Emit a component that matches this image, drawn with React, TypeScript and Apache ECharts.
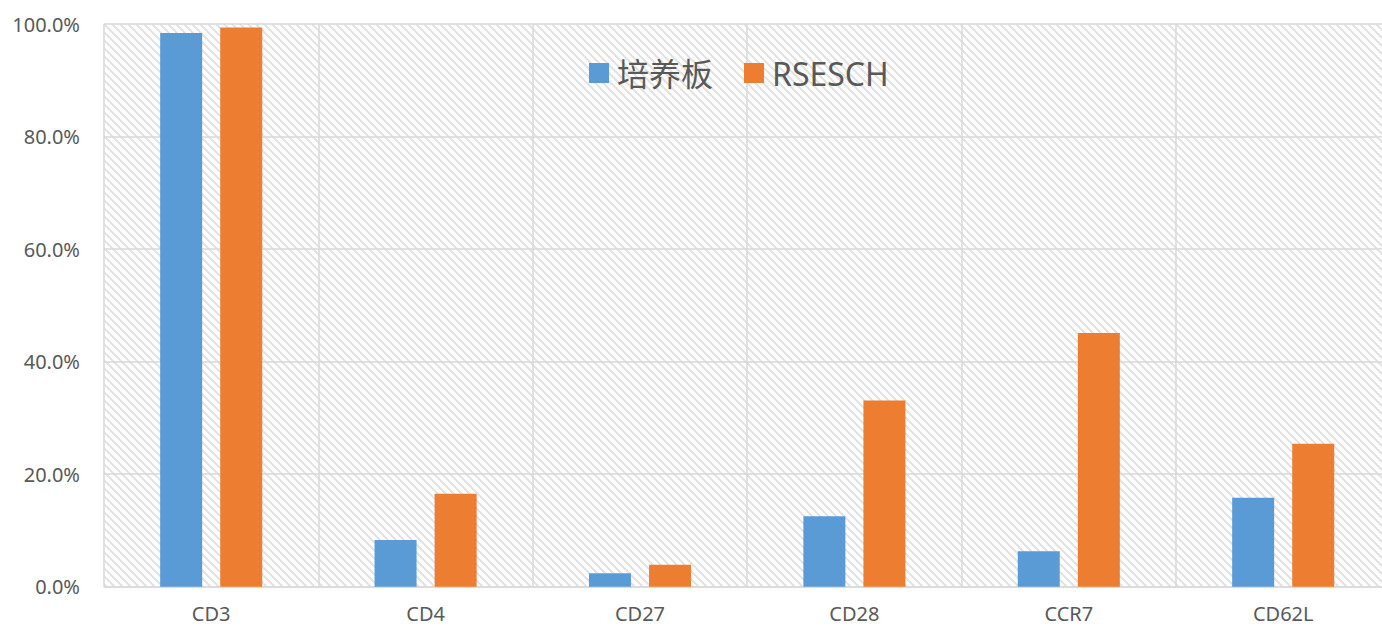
import React, { useEffect, useRef } from "react";
import * as echarts from "echarts";

const categories = ["CD3", "CD4", "CD27", "CD28", "CCR7", "CD62L"];
const seriesNames = ["培养板", "RSESCH"];
const plateValues = [98.4, 8.3, 2.4, 12.5, 6.3, 15.8];
const rseschValues = [99.4, 16.5, 3.9, 33.1, 45.1, 25.4];
const yTicks = { min: 0, max: 100, interval: 20 };

const W = 1382;
const H = 627;
const GRID = { left: 104, top: 24, width: 1286.4, height: 562.7 };

const tileSvg =
  "<svg xmlns='http://www.w3.org/2000/svg' width='8' height='8'>" +
  "<path d='M-1,-1 L9,9 M-1,7 L1,9 M7,-1 L9,1' stroke='#e2e2e2' stroke-width='2' fill='none'/></svg>";
const tileUrl = "data:image/svg+xml;utf8," + encodeURIComponent(tileSvg);

export default function App() {
  const ref = useRef<HTMLDivElement>(null);
  useEffect(() => {
    if (!ref.current) return;
    const chart = echarts.init(ref.current, null, { renderer: "svg" });
    const textColor = "#595959";
    const font = "'Noto Sans', 'Open Sans', 'Noto Sans CJK SC', sans-serif";
    chart.setOption({
      animation: false,
      backgroundColor: "#ffffff",
      textStyle: { fontFamily: font },
      grid: { ...GRID, containLabel: false, outerBoundsMode: "none" },
      graphic: [
        {
          type: "rect",
          z: -10,
          silent: true,
          shape: { x: GRID.left, y: GRID.top, width: GRID.width, height: GRID.height },
          style: {
            fill: { image: tileUrl, repeat: "repeat", imageWidth: 8, imageHeight: 8 },
          },
        },
      ],
      legend: {
        left: 584,
        top: 52,
        itemWidth: 20,
        itemHeight: 20,
        itemGap: 31,
        icon: "rect",
        textStyle: {
          fontSize: 32,
          color: textColor,
          fontFamily: "'Noto Sans', 'Noto Sans CJK SC', sans-serif",
          padding: [0, 0, 0, 3],
        },
        data: seriesNames,
      },
      xAxis: {
        type: "category",
        data: categories,
        boundaryGap: true,
        axisTick: { show: false },
        axisLine: { lineStyle: { color: "#d9d9d9", width: 1.5 } },
        axisLabel: { color: textColor, fontSize: 20, lineHeight: 20, margin: 17 },
        splitLine: { show: true, lineStyle: { color: "#d9d9d9", width: 1.5 } },
      },
      yAxis: {
        type: "value",
        min: yTicks.min,
        max: yTicks.max,
        interval: yTicks.interval,
        axisLine: { show: false },
        axisTick: { show: false },
        axisLabel: {
          color: textColor,
          fontSize: 20,
          margin: 24,
          formatter: (v: number) => v.toFixed(1) + "%",
        },
        splitLine: { show: true, lineStyle: { color: "#d9d9d9", width: 1.5 } },
      },
      series: [
        {
          name: seriesNames[0],
          type: "bar",
          data: plateValues,
          barWidth: 42,
          barGap: "43%",
          itemStyle: { color: "#5b9bd5" },
        },
        {
          name: seriesNames[1],
          type: "bar",
          data: rseschValues,
          barWidth: 42,
          barGap: "43%",
          itemStyle: { color: "#ed7d31" },
        },
      ],
    });
    return () => chart.dispose();
  }, []);
  return (
    <div
      ref={ref}
      style={{ position: "absolute", left: 0, top: 0, width: W, height: H }}
    />
  );
}
